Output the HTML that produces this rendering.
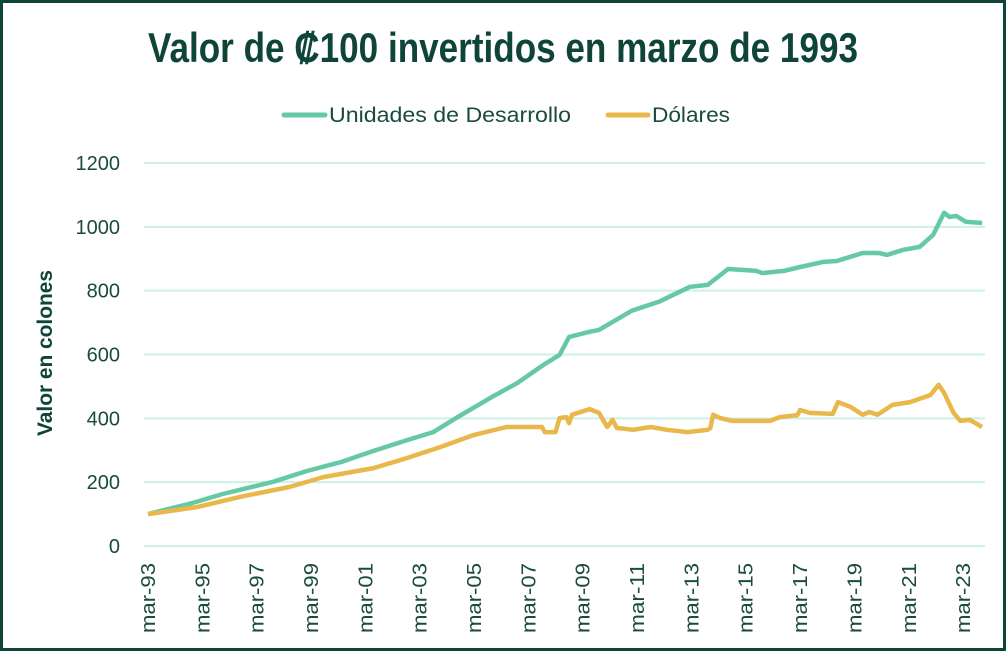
<!DOCTYPE html>
<html><head><meta charset="utf-8"><style>
html,body{margin:0;padding:0;background:#fff}
#wrap{position:relative;width:1006px;height:651px;box-sizing:border-box;border:3px solid #0f4539;overflow:hidden;font-family:"Liberation Sans",sans-serif}
svg{position:absolute;left:-3px;top:-3px}
</style></head><body>
<div id="wrap">
<svg id="chart" width="1006" height="651">
<text x="148" y="62" textLength="710" lengthAdjust="spacingAndGlyphs" font-family="'Liberation Sans Narrow','Liberation Sans',sans-serif" font-weight="bold" font-size="42" fill="#0f4539">Valor de ₡100 invertidos en marzo de 1993</text>
<g>
<g><line x1="284" y1="115" x2="325" y2="115" stroke="#66c9a6" stroke-width="5" stroke-linecap="round"/><text x="329" y="122" textLength="242" lengthAdjust="spacingAndGlyphs" font-size="21" fill="#1a4a40">Unidades de Desarrollo</text></g>
<g><line x1="608" y1="115" x2="648" y2="115" stroke="#e8b84b" stroke-width="5" stroke-linecap="round"/><text x="652" y="122" textLength="78" lengthAdjust="spacingAndGlyphs" font-size="21" fill="#1a4a40">Dólares</text></g>
</g>
<text transform="translate(52,353) rotate(-90)" text-anchor="middle" textLength="166" lengthAdjust="spacingAndGlyphs" font-family="'Liberation Sans Narrow','Liberation Sans',sans-serif" font-weight="bold" font-size="21" fill="#0f4539">Valor en colones</text>
<g id="grid"></g><g id="yt"></g><g id="xt"></g><g id="lines"></g>
</svg>
</div>
<script>
const yTicks=[0,200,400,600,800,1000,1200];
const xTickYears=[93,95,97,99,1,3,5,7,9,11,13,15,17,19,21,23];
const udYears=[1993.2,1994.85,1995.95,1997.8,1999.05,2000.3,2001.5,2002.75,2003.7,2004.6,2005.8,2006.8,2007.75,2008.35,2008.7,2009.45,2009.8,2010.3,2011,2012,2013.15,2013.8,2014.55,2015.6,2015.8,2016.6,2017.2,2018.05,2018.55,2019.05,2019.5,2020.1,2020.4,2021,2021.6,2022.1,2022.5,2022.7,2022.95,2023.3,2023.9];
const udValues=[100,135,163,201,235,263,298,332,357,404,464,511,567,599,655,671,677,702,737,765,812,818,868,862,855,862,874,890,893,906,918,918,912,928,937,975,1044,1031,1034,1016,1012];
const usdYears=[1993.2,1995,1996.6,1998.4,1999.65,2001.5,2002.75,2003.95,2005.2,2006.4,2007.7,2007.8,2008.2,2008.35,2008.6,2008.7,2008.8,2009.45,2009.8,2010.1,2010.3,2010.45,2011.05,2011.7,2012.3,2013.05,2013.8,2013.9,2014.0,2014.25,2014.7,2016.1,2016.45,2017.1,2017.2,2017.55,2018.4,2018.6,2019.05,2019.5,2019.75,2020.05,2020.6,2021.25,2022,2022.3,2022.5,2022.85,2023.1,2023.45,2023.9];
const usdValues=[100,122,154,185,216,244,276,310,348,373,373,357,357,401,404,385,411,429,417,373,395,370,364,373,364,357,364,370,411,401,392,392,404,410,426,417,414,451,436,411,420,411,442,451,473,505,480,417,392,395,373];
const svg=document.getElementById('chart'),NS='http://www.w3.org/2000/svg';
const X0=148,PX_YR=27.17,Y0=546,PX_U=383/1200,L=144,R=985;
const xs=y=>X0+(y-1993.2)*PX_YR, ys=v=>Y0-v*PX_U;
function mk(t,a,p){const e=document.createElementNS(NS,t);for(const k in a)e.setAttribute(k,a[k]);p.appendChild(e);return e;}
const g=document.getElementById('grid'),yt=document.getElementById('yt'),xt=document.getElementById('xt'),ln=document.getElementById('lines');
yTicks.forEach(v=>{
 const l=mk('line',{x1:L,x2:R,y1:ys(v),y2:ys(v),stroke:'#cdf0e8','stroke-width':2},g);
 
 
 const t=mk('text',{x:120,y:ys(v)+7,'text-anchor':'end','font-size':20,fill:'#1a4a40'},yt);
 t.textContent=v;
 
 
});
xTickYears.forEach(yy=>{
 const full=yy>=90?1900+yy:2000+yy;
 const x=xs(full+0.2);
 const t=mk('text',{transform:`translate(${x+7},563) rotate(-90)`,'text-anchor':'end','font-size':20,textLength:70,lengthAdjust:'spacingAndGlyphs',fill:'#1a4a40'},xt);
 t.textContent='mar-'+String(yy).padStart(2,'0');
 
 
});
function line(yrs,vals,c,n){
 const d=yrs.map((y,i)=>(i?'L':'M')+xs(y).toFixed(1)+','+ys(vals[i]).toFixed(1)).join('');
 const p=mk('path',{d,fill:'none',stroke:c,'stroke-width':4.5,'stroke-linejoin':'round'},ln);
 
 
}
line(udYears,udValues,'#66c9a6','series-unidades-de-desarrollo');
line(usdYears,usdValues,'#e8b84b','series-dolares');
</script>
</body></html>
